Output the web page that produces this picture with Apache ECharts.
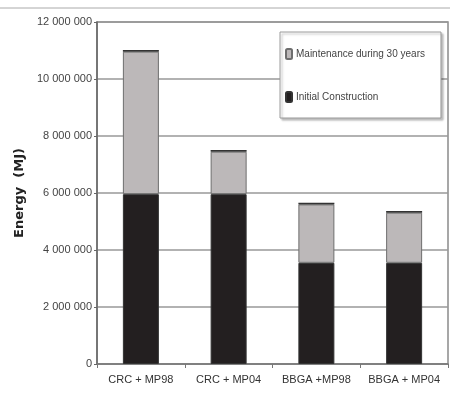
<!DOCTYPE html>
<html>
<head>
<meta charset="utf-8">
<script src="https://cdn.jsdelivr.net/npm/echarts@6/dist/echarts.min.js"></script>
<style>
  html, body { margin: 0; padding: 0; background: #fff; }
  #chart { width: 450px; height: 393px; }
</style>
</head>
<body>
<div id="chart"></div>
<script>
const categories = ["CRC + MP98", "CRC + MP04", "BBGA +MP98", "BBGA + MP04"];
const initialConstruction = [5960000, 5960000, 3550000, 3550000];
const maintenance = [5000000, 1490000, 2050000, 1760000];
// thin dark cap drawn on top of every bar
const topCap = [60000, 60000, 60000, 60000];
const yTicks = { min: 0, max: 12000000, interval: 2000000 };

const narrow = "'Liberation Sans Narrow', 'Liberation Sans', sans-serif";

function spaced(v) {
  return String(v).replace(/\B(?=(\d{3})+(?!\d))/g, " ");
}

const chart = echarts.init(document.getElementById("chart"));

chart.setOption({
  animation: false,
  textStyle: { fontFamily: narrow },
  grid: {
    left: 97, right: 2, top: 22, bottom: 29,
    show: true, borderColor: "#8a8a8a", borderWidth: 1.5,
  },
  legend: {
    data: ["Maintenance during 30 years", "Initial Construction"],
    orient: "vertical",
    left: 280, top: 32,
    padding: [16, 16, 15, 5],
    itemGap: 31,
    itemWidth: 6, itemHeight: 10,
    backgroundColor: "#fff",
    borderColor: "#9a9a9a", borderWidth: 1,
    shadowColor: "rgba(0,0,0,0.25)", shadowBlur: 2, shadowOffsetX: 2, shadowOffsetY: 2,
    textStyle: { fontFamily: narrow, fontSize: 10, color: "#444", padding: [0, 0, 0, -1] },
    selectedMode: false,
  },
  xAxis: {
    type: "category",
    data: categories,
    axisLine: { lineStyle: { color: "#777", width: 1.5 } },
    axisTick: { show: true, length: 4, lineStyle: { color: "#777" } },
    axisLabel: { color: "#333", fontSize: 11, fontFamily: narrow, margin: 10, interval: 0 },
  },
  yAxis: {
    type: "value",
    min: yTicks.min, max: yTicks.max, interval: yTicks.interval,
    name: "Energy  (MJ)",
    nameLocation: "middle",
    nameGap: 36,
    nameTextStyle: { fontFamily: "'DejaVu Sans', sans-serif", fontWeight: "bold", fontSize: 13, color: "#222" },
    axisLine: { show: true, lineStyle: { color: "#666", width: 1.5 } },
    axisTick: { show: true, length: 3, lineStyle: { color: "#666" } },
    axisLabel: { color: "#444", fontSize: 11, fontFamily: narrow, margin: 5, formatter: spaced },
    splitLine: { show: true, lineStyle: { color: "#999", width: 1.5 } },
  },
  graphic: [
    { type: "line", shape: { x1: 0, y1: 8, x2: 450, y2: 8 }, style: { stroke: "#aaa", lineWidth: 1 } },
  ],
  series: [
    {
      name: "Initial Construction",
      type: "bar",
      stack: "total",
      barWidth: 36,
      data: initialConstruction,
      itemStyle: { color: "#231f20", borderColor: "#333", borderWidth: 1 },
    },
    {
      name: "Maintenance during 30 years",
      type: "bar",
      stack: "total",
      barWidth: 36,
      data: maintenance,
      itemStyle: { color: "#bcb8b9", borderColor: "#6e6e6e", borderWidth: 1 },
    },
    {
      name: "cap",
      type: "bar",
      stack: "total",
      barWidth: 36,
      data: topCap,
      itemStyle: { color: "#333" },
    },
  ],
});
</script>
</body>
</html>
